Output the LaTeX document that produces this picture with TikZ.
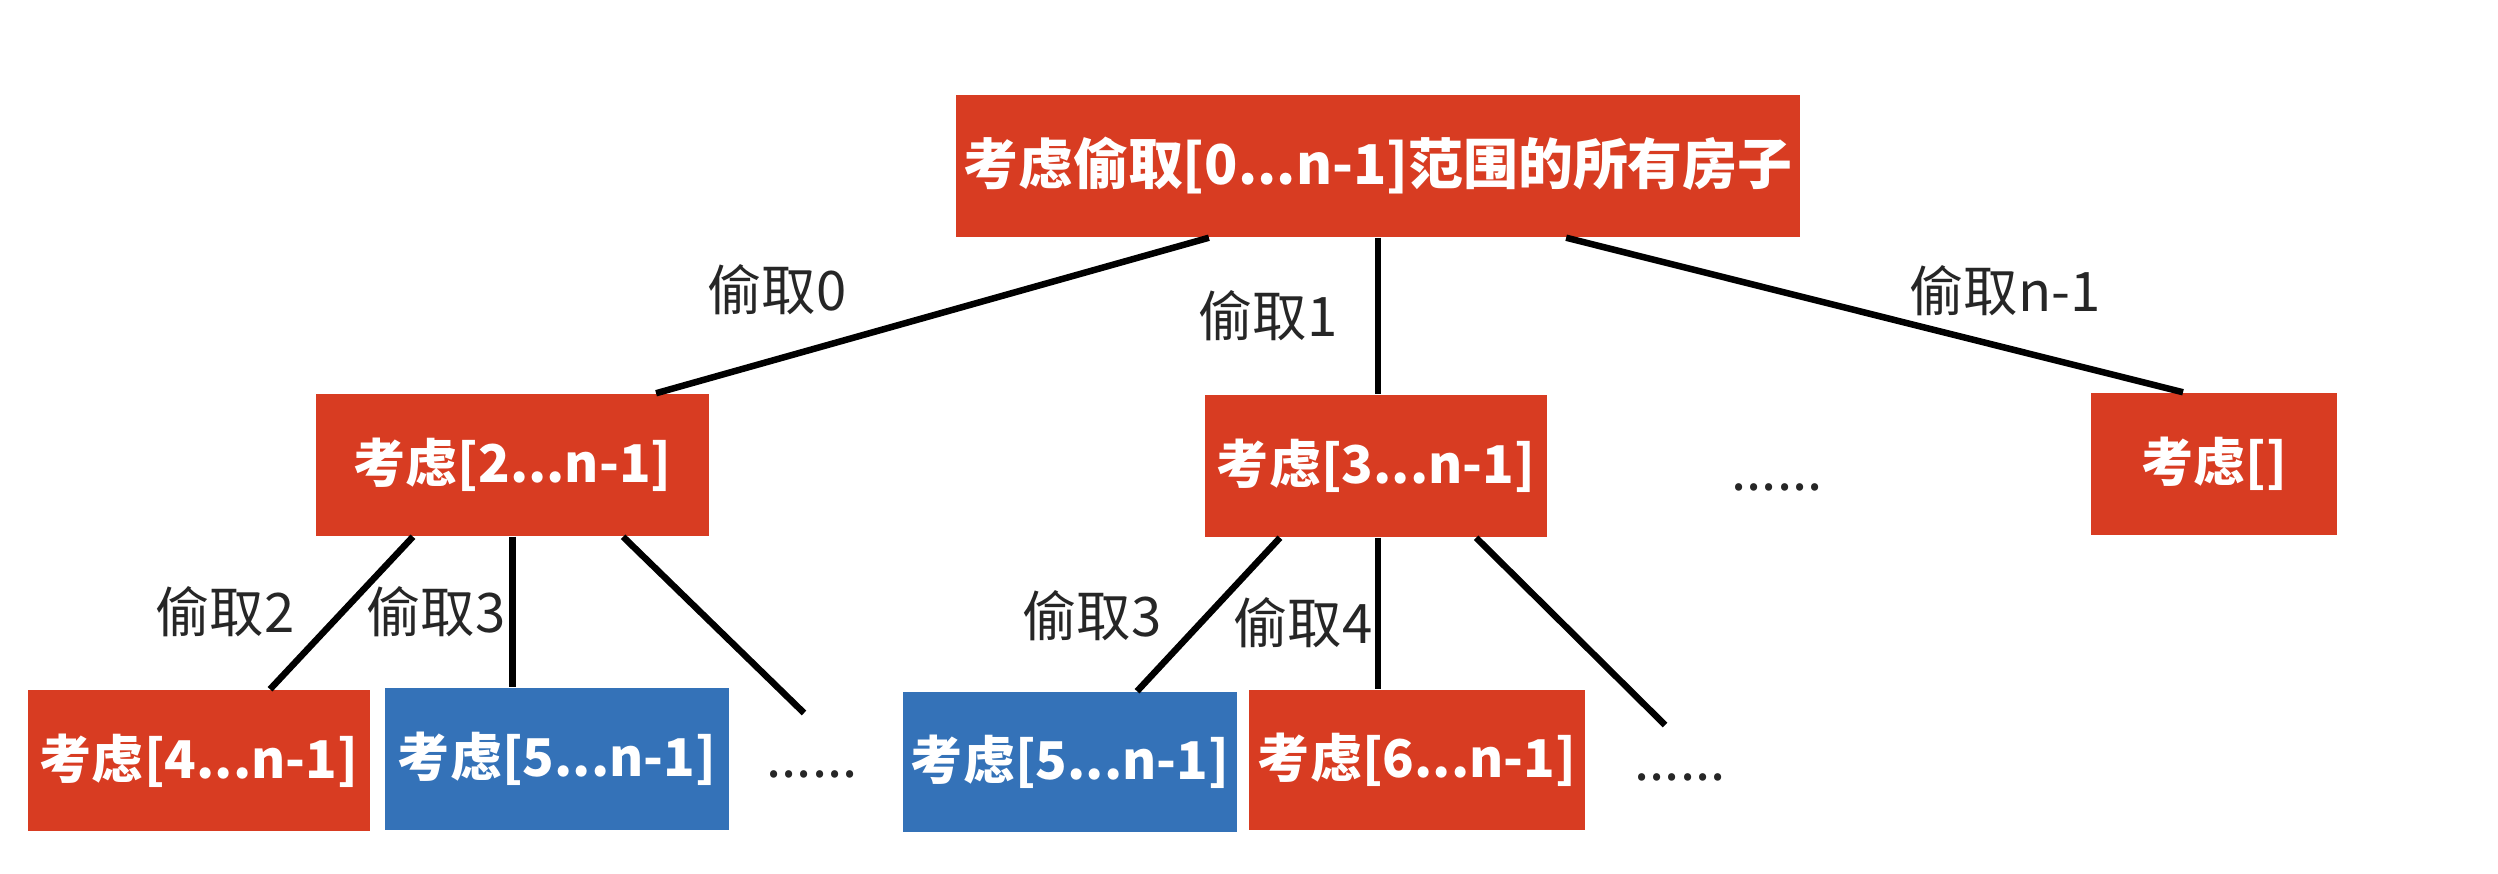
\documentclass[tikz,border=0pt]{standalone}
\usepackage{fontspec}
\setmainfont{Noto Sans CJK SC}
\definecolor{boxred}{RGB}{216,60,34}
\definecolor{boxblue}{RGB}{52,114,184}
\tikzset{
  redbox/.style={fill=boxred, draw=none, text=white, inner sep=0pt, font=\fontsize{14.8pt}{18pt}\selectfont\bfseries, minimum height=1.42cm},
  bluebox/.style={redbox, fill=boxblue},
  lbl/.style={text=black!85, inner sep=0pt, font=\fontsize{15.5pt}{18pt}\selectfont},
  conn/.style={line width=0.065cm, black},
}
\begin{document}
\begin{tikzpicture}[x=0.01cm,y=-0.01cm]
\useasboundingbox (0,0) rectangle (2498,874);
% boxes
\node[redbox, minimum width=8.44cm, font=\fontsize{15.6pt}{18pt}\selectfont\bfseries] (root) at (1378,166) {考虑偷取[0...n-1]范围的所有房子};
\node[redbox, minimum width=3.93cm] (n2a) at (512.5,465) {考虑[2...n-1]};
\node[redbox, minimum width=3.42cm] (n2b) at (1376,466) {考虑[3...n-1]};
\node[redbox, minimum width=2.46cm] (n2c) at (2214,464) {考虑[]};
\node[lbl] (d2) at (1777,487) {......};
\node[redbox, minimum width=3.42cm, minimum height=1.41cm] (n3a) at (199,760.5) {考虑[4...n-1]};
\node[bluebox, minimum width=3.44cm, minimum height=1.42cm] (n3b) at (557,759) {考虑[5...n-1]};
\node[lbl] (d3a) at (812,774) {......};
\node[bluebox, minimum width=3.34cm, minimum height=1.40cm] (n3c) at (1070,762) {考虑[5...n-1]};
\node[redbox, minimum width=3.36cm, minimum height=1.40cm] (n3d) at (1417,760) {考虑[6...n-1]};
\node[lbl] (d3b) at (1680,777) {......};
% free ends
\coordinate (e1) at (804,713);
\coordinate (e2) at (1665,725);
% connectors
\draw[conn] ([xshift=-1.69cm]root.south) -- ([xshift=1.435cm]n2a.north);
\draw[conn] (root.south) -- (root.south |- n2b.north);
\draw[conn] ([xshift=1.88cm]root.south) -- ([xshift=-0.31cm]n2c.north);
\draw[conn] ([xshift=-0.995cm]n2a.south) -- ([xshift=0.71cm]n3a.north);
\draw[conn] (n2a.south) -- (n2a.south |- n3b.north);
\draw[conn] ([xshift=1.105cm]n2a.south) -- (e1);
\draw[conn] ([xshift=-0.96cm]n2b.south) -- ([xshift=0.67cm]n3c.north);
\draw[conn] ([xshift=0.02cm]n2b.south) -- ([xshift=0.02cm]n2b.south |- n3d.north);
\draw[conn] ([xshift=1.0cm]n2b.south) -- (e2);
% labels
\node[lbl] (l0) at (777,290) {偷取0};
\node[lbl] (l1) at (1268,316) {偷取1};
\node[lbl] (ln) at (2005,291) {偷取n-1};
\node[lbl] (l2) at (225,612) {偷取2};
\node[lbl] (l3a) at (436,612) {偷取3};
\node[lbl] (l3b) at (1092,616) {偷取3};
\node[lbl] (l4) at (1303,623) {偷取4};
\end{tikzpicture}
\end{document}
